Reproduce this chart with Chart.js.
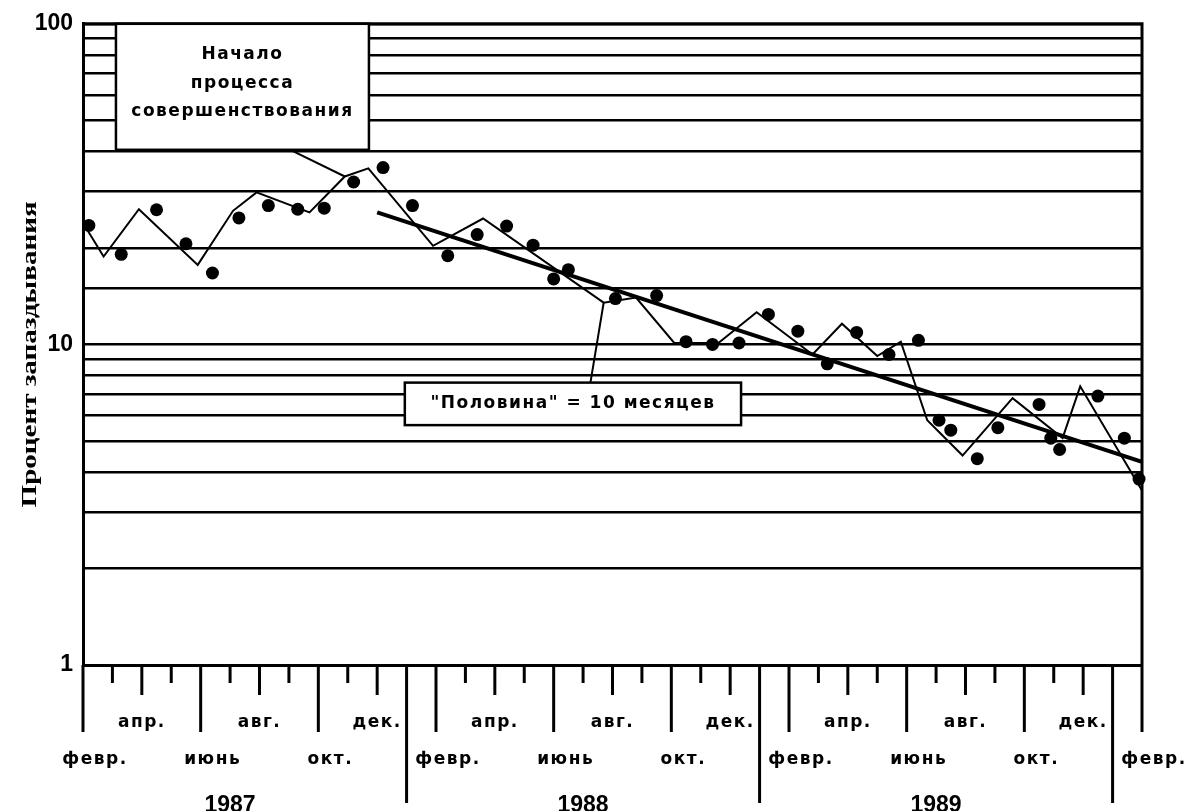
<!DOCTYPE html>
<html lang="ru">
<head>
  <meta charset="UTF-8">
  <title>Процент запаздывания</title>
  <style>
    body { margin: 0; background: #fff; }
    canvas { display: block; }
  </style>
</head>
<body>
  <canvas id="chart" width="1199" height="811"></canvas>

  <script src="https://cdn.jsdelivr.net/npm/chart.js"></script>
  <script>
    // x = months counted from Feb 1987 (0) to Feb 1990 (36)
    const monthNames = ['февр.', '', 'апр.', '', 'июнь', '', 'авг.', '', 'окт.', '', 'дек.', ''];
    const years = ['1987', '1988', '1989'];
    const yLabels = [1, 10, 100];

    // monthly readings (dots)
    const dotMonths = [0.2, 1.3, 2.5, 3.5, 4.4, 5.3, 6.3, 7.3, 8.2, 9.2, 10.2, 11.2,
                       12.4, 13.4, 14.4, 15.3, 16.0, 16.5, 18.1, 19.5, 20.5, 21.4, 22.3, 23.3,
                       24.3, 25.3, 26.3, 27.4, 28.4, 29.1, 29.5, 30.4, 31.1, 32.5, 32.9, 33.2, 34.5, 35.4, 35.9];
    const dotValues = [23.5, 19.1, 26.3, 20.6, 16.7, 24.8, 27.1, 26.4, 26.6, 32.1, 35.6, 27.1,
                       18.9, 22.0, 23.4, 20.4, 16.0, 17.1, 13.9, 14.2, 10.2, 10.0, 10.1, 12.4,
                       11.0, 8.7, 10.9, 9.3, 10.3, 5.8, 5.4, 4.4, 5.5, 6.5, 5.1, 4.7, 6.9, 5.1, 3.8];

    // thin broken line
    const lineMonths = [0.1, 0.7, 1.9, 3.9, 5.1, 5.9, 7.7, 8.9, 9.7, 11.9, 13.6, 17.7, 18.8,
                        20.1, 21.6, 22.9, 24.8, 25.8, 27.0, 27.8, 28.7, 29.9, 31.6, 33.3, 33.9, 36.0];
    const lineValues = [23.1, 18.8, 26.4, 17.7, 26.1, 29.8, 25.8, 33.4, 35.4, 20.3, 24.7, 13.5, 14.0,
                        10.1, 10.1, 12.6, 9.3, 11.6, 9.2, 10.2, 5.8, 4.5, 6.8, 5.1, 7.4, 3.5];

    // trend ("half" = 10 months)
    const trendMonths = [10.0, 36.0];
    const trendValues = [25.8, 4.3];

    const toPts = (xs, ys) => xs.map((m, i) => ({ x: m, y: ys[i] }));
    const sansBold = '"DejaVu Sans", "Liberation Sans", Arial, sans-serif';
    const narrowBold = '"Liberation Sans Narrow", "Arial Narrow", "Liberation Sans", sans-serif';

    // ticks, labels, boxes drawn on top of the chart
    const decor = {
      id: 'decor',
      afterDraw(chart) {
        const { ctx, chartArea: a, scales: { x, y } } = chart;
        ctx.save();
        ctx.strokeStyle = '#000';
        ctx.fillStyle = '#000';

        // top / right frame
        ctx.lineWidth = 3;
        ctx.beginPath();
        ctx.moveTo(a.left, a.top);
        ctx.lineTo(a.right, a.top);
        ctx.lineTo(a.right, a.bottom);
        ctx.stroke();

        // month ticks and names
        ctx.textAlign = 'center';
        ctx.textBaseline = 'middle';
        ctx.font = 'bold 17px ' + sansBold;
        ctx.letterSpacing = '1.5px';
        for (let i = 0; i <= 36; i++) {
          const px = x.getPixelForValue(i);
          const c = i % 12;
          const len = c === 11 ? 138 : c % 4 === 0 ? 67 : c % 2 === 0 ? 30 : 18;
          ctx.beginPath();
          ctx.moveTo(px, a.bottom);
          ctx.lineTo(px, a.bottom + len);
          ctx.stroke();
          const name = monthNames[c];
          if (!name) continue;
          if (c % 4 === 0) ctx.fillText(name, px + 12, a.bottom + 95);
          else ctx.fillText(name, px, a.bottom + 58);
        }

        // years
        ctx.letterSpacing = '0px';
        ctx.font = 'bold 23px ' + narrowBold;
        years.forEach((yr, k) => {
          ctx.fillText(yr, x.getPixelForValue(12 * k + 5), a.bottom + 141);
        });

        // y title
        ctx.save();
        ctx.translate(30, (a.top + a.bottom) / 2 + 10);
        ctx.rotate(-Math.PI / 2);
        ctx.scale(1.32, 1);
        ctx.font = 'bold 22px "Liberation Serif", "Times New Roman", serif';
        ctx.fillText('Процент запаздывания', 0, 0);
        ctx.restore();

        // annotation boxes
        ctx.lineWidth = 2.5;
        ctx.font = 'bold 17px ' + sansBold;
        ctx.letterSpacing = '1.5px';

        const b1 = { l: x.getPixelForValue(1.12), r: x.getPixelForValue(9.72), t: a.top, b: a.top + 126 };
        ctx.fillStyle = '#fff';
        ctx.fillRect(b1.l, b1.t, b1.r - b1.l, b1.b - b1.t);
        ctx.strokeRect(b1.l, b1.t, b1.r - b1.l, b1.b - b1.t);
        ctx.fillStyle = '#000';
        const c1 = (b1.l + b1.r) / 2;
        ctx.fillText('Начало', c1, b1.t + 31);
        ctx.fillText('процесса', c1, b1.t + 60);
        ctx.fillText('совершенствования', c1, b1.t + 88);
        ctx.lineWidth = 2;
        ctx.beginPath();
        ctx.moveTo(x.getPixelForValue(7.05), b1.b);
        ctx.lineTo(x.getPixelForValue(lineMonths[7]), y.getPixelForValue(lineValues[7]));
        ctx.stroke();

        const b2 = { l: x.getPixelForValue(10.94), r: x.getPixelForValue(22.37), t: y.getPixelForValue(7.6), b: y.getPixelForValue(5.6) };
        ctx.lineWidth = 2.5;
        ctx.fillStyle = '#fff';
        ctx.fillRect(b2.l, b2.t, b2.r - b2.l, b2.b - b2.t);
        ctx.strokeRect(b2.l, b2.t, b2.r - b2.l, b2.b - b2.t);
        ctx.fillStyle = '#000';
        ctx.fillText('"Половина" = 10 месяцев', (b2.l + b2.r) / 2, (b2.t + b2.b) / 2);
        ctx.lineWidth = 2;
        ctx.beginPath();
        ctx.moveTo(x.getPixelForValue(17.25), b2.t);
        ctx.lineTo(x.getPixelForValue(lineMonths[11]), y.getPixelForValue(lineValues[11]));
        ctx.stroke();

        ctx.restore();
      }
    };

    new Chart(document.getElementById('chart'), {
      type: 'scatter',
      data: {
        datasets: [
          {
            label: 'Тренд',
            data: toPts(trendMonths, trendValues),
            showLine: true,
            borderColor: '#000',
            borderWidth: 4,
            pointRadius: 0
          },
          {
            label: 'Линия',
            data: toPts(lineMonths, lineValues),
            showLine: true,
            borderColor: '#000',
            borderWidth: 2,
            pointRadius: 0,
            tension: 0
          },
          {
            label: 'Точки',
            data: toPts(dotMonths, dotValues),
            backgroundColor: '#000',
            borderWidth: 0,
            pointRadius: 6.5,
            clip: false
          }
        ]
      },
      options: {
        responsive: false,
        animation: false,
        layout: { padding: { top: 22, right: 57, left: 0, bottom: 0 } },
        plugins: { legend: { display: false }, tooltip: { enabled: false } },
        scales: {
          x: {
            type: 'linear',
            min: 0,
            max: 36,
            ticks: { display: false },
            grid: { display: false },
            border: { color: '#000', width: 3 },
            afterFit: s => { s.height = 146; }
          },
          y: {
            type: 'logarithmic',
            min: 1,
            max: 100,
            ticks: {
              autoSkip: false,
              color: '#000',
              padding: 10,
              font: { family: narrowBold, size: 23, weight: 'bold' },
              callback: v => yLabels.includes(v) ? String(v) : ''
            },
            grid: { color: '#000', lineWidth: 2.5, drawTicks: false },
            border: { color: '#000', width: 3 },
            afterFit: s => { s.width = 83; }
          }
        }
      },
      plugins: [decor]
    });
  </script>
</body>
</html>
